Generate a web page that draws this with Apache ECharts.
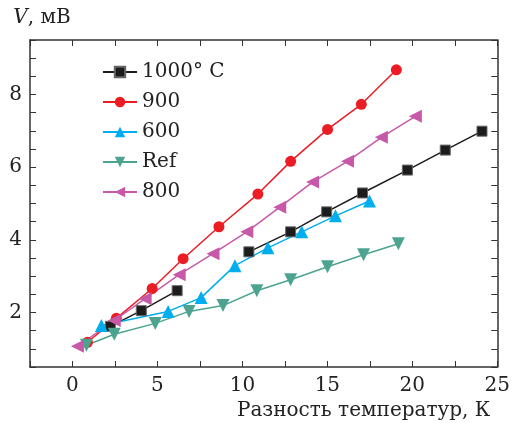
<!DOCTYPE html>
<html>
<head>
<meta charset="utf-8">
<script src="https://cdn.jsdelivr.net/npm/echarts@6/dist/echarts.min.js"></script>
<style>
html, body { margin: 0; padding: 0; background: #fff; }
#chart { width: 513px; height: 423px; }
</style>
</head>
<body>
<div id="chart"></div>
<script>
// данные
var x1000 = [2.23, 4.05, 6.16, null, 10.38, 12.84, 14.96, 17.07, 19.71, 21.94, 24.1];
var y1000 = [1.62, 2.05, 2.60, null, 3.67, 4.22, 4.77, 5.29, 5.92, 6.47, 6.99];
var x900 = [0.88, 2.58, 4.69, 6.51, 8.62, 10.91, 12.84, 15.01, 17.0, 19.06];
var y900 = [1.18, 1.84, 2.66, 3.48, 4.36, 5.26, 6.16, 7.04, 7.73, 8.68];
var x600 = [1.70, 5.63, 7.57, 9.56, 11.50, 13.49, 15.48, 17.48];
var y600 = [1.64, 2.03, 2.41, 3.29, 3.78, 4.22, 4.66, 5.07];
var xRef = [0.82, 2.46, 4.87, 6.86, 8.86, 10.85, 12.84, 15.01, 17.13, 19.18];
var yRef = [1.10, 1.40, 1.70, 2.03, 2.19, 2.60, 2.90, 3.26, 3.59, 3.89];
var x800 = [0.29, 2.46, 4.28, 6.28, 8.27, 10.26, 12.2, 14.13, 16.19, 18.18, 20.18];
var y800 = [1.07, 1.78, 2.38, 3.04, 3.62, 4.22, 4.90, 5.59, 6.16, 6.82, 7.40];
var xLabels = [0, 5, 10, 15, 20, 25];
var yLabels = [2, 4, 6, 8];

function pairs(xs, ys) {
    return xs.map(function (x, i) {
        return x === null ? ['-', '-'] : [x, ys[i]];
    });
}

var font = '"DejaVu Serif", "Liberation Serif", serif';
var axisColor = '#333';

function mkSeries(name, xs, ys, color, symbol, rotate, size) {
    return {
        name: name,
        type: 'line',
        data: pairs(xs, ys),
        symbol: symbol,
        symbolRotate: rotate,
        symbolSize: size,
        lineStyle: { color: color, width: 1.5 },
        itemStyle: { color: color, borderColor: color, borderWidth: 0 },
        emphasis: { disabled: true },
        animation: false
    };
}

var s1000 = mkSeries('1000° C', x1000, y1000, '#1c1c1c', 'rect', 0, 10);
s1000.itemStyle.borderColor = '#666';
s1000.itemStyle.borderWidth = 1;

var chart = echarts.init(document.getElementById('chart'));
chart.setOption({
    backgroundColor: '#fff',
    animation: false,
    grid: { left: 30, right: 14, top: 40, bottom: 56 },
    legend: {
        orient: 'vertical',
        left: 97,
        top: 57,
        itemWidth: 34,
        itemHeight: 13,
        itemGap: 10,
        textStyle: { fontFamily: font, fontSize: 20, color: '#222' },
        data: ['1000° C', '900', '600', 'Ref', '800']
    },
    xAxis: [{
        type: 'value',
        min: -2.5,
        max: 25,
        interval: 2.5,
        name: 'Разность температур, К',
        nameLocation: 'end',
        nameGap: -7,
        nameTextStyle: {
            fontFamily: font, fontSize: 20, color: '#222',
            align: 'right', verticalAlign: 'top', padding: [34, 0, 0, 0]
        },
        axisLine: { show: true, onZero: false, lineStyle: { color: axisColor, width: 1.5 } },
        axisTick: { inside: true, length: 6, lineStyle: { color: axisColor } },
        axisLabel: {
            margin: 9,
            fontFamily: font, fontSize: 20, color: '#222',
            formatter: function (v) { return xLabels.indexOf(v) >= 0 ? String(v) : ''; }
        },
        splitLine: { show: false }
    }, {
        type: 'value',
        position: 'top',
        min: -2.5,
        max: 25,
        interval: 2.5,
        axisLine: { show: true, onZero: false, lineStyle: { color: axisColor, width: 1.5 } },
        axisTick: { inside: true, length: 6, lineStyle: { color: axisColor } },
        axisLabel: { show: false },
        splitLine: { show: false }
    }],
    yAxis: [{
        type: 'value',
        min: 0.5,
        max: 9.5,
        interval: 0.5,
        name: '{i|V}, мВ',
        nameLocation: 'end',
        nameGap: 12,
        nameTextStyle: {
            fontFamily: font, fontSize: 20, color: '#222',
            align: 'center', padding: [0, 0, 0, 24],
            rich: { i: { fontFamily: font, fontSize: 20, fontStyle: 'italic', color: '#222' } }
        },
        axisLine: { show: true, onZero: false, lineStyle: { color: axisColor, width: 1.5 } },
        axisTick: { inside: true, length: 6, lineStyle: { color: axisColor } },
        axisLabel: {
            margin: 8,
            fontFamily: font, fontSize: 20, color: '#222',
            formatter: function (v) { return yLabels.indexOf(v) >= 0 ? String(v) : ''; }
        },
        splitLine: { show: false }
    }, {
        type: 'value',
        position: 'right',
        min: 0.5,
        max: 9.5,
        interval: 0.5,
        axisLine: { show: true, onZero: false, lineStyle: { color: axisColor, width: 1.5 } },
        axisTick: { inside: true, length: 6, lineStyle: { color: axisColor } },
        axisLabel: { show: false },
        splitLine: { show: false }
    }],
    series: [
        s1000,
        mkSeries('900', x900, y900, '#ec1c24', 'circle', 0, 11),
        mkSeries('600', x600, y600, '#00aeef', 'triangle', 0, 13),
        mkSeries('Ref', xRef, yRef, '#4ca490', 'triangle', 180, 13),
        mkSeries('800', x800, y800, '#c759a8', 'triangle', 90, 13)
    ]
});
</script>
</body>
</html>
